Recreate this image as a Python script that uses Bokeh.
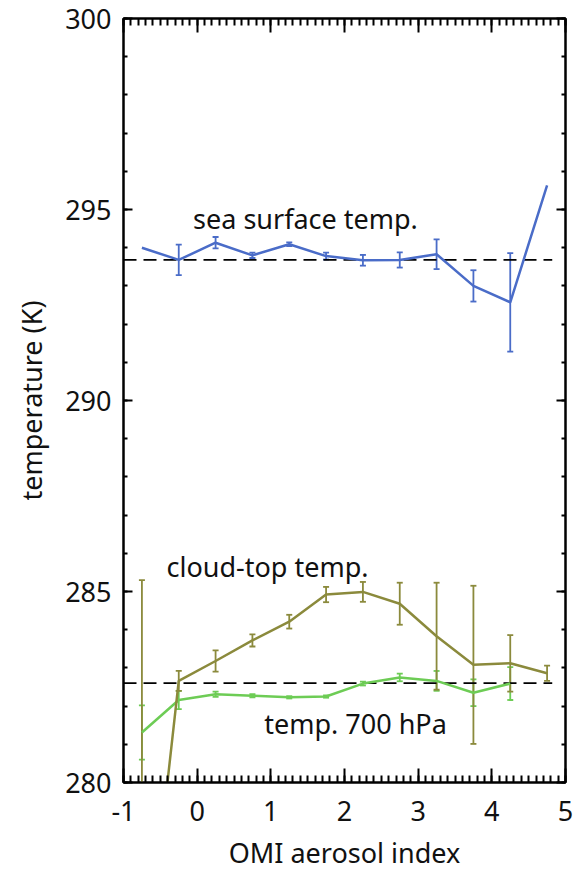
import numpy as np
from bokeh.plotting import figure
from bokeh.models import (ColumnDataSource, Whisker, TeeHead, LinearAxis, FixedTicker,
                          Range1d, Label, CustomJSTickFormatter)
from bokeh.embed import file_html
from bokeh.resources import INLINE

# ---- data ----
x_bins = [-0.75, -0.25, 0.25, 0.75, 1.25, 1.75, 2.25, 2.75, 3.25, 3.75, 4.25, 4.75]

sst = [294.0, 293.68, 294.13, 293.80, 294.09, 293.78, 293.67, 293.68, 293.83, 293.00, 292.57, 295.63]
sst_err = [0.0, 0.40, 0.15, 0.07, 0.05, 0.09, 0.14, 0.20, 0.39, 0.41, 1.29, 0.0]

ctt = [274.0, 282.66, 283.18, 283.72, 284.21, 284.92, 284.99, 284.68, 283.83, 283.08, 283.12, 282.86]
ctt_err = [11.3, 0.26, 0.28, 0.16, 0.18, 0.20, 0.26, 0.55, 1.40, 2.07, 0.74, 0.20]

x_t700 = [-0.75, -0.25, 0.25, 0.75, 1.25, 1.75, 2.25, 2.75, 3.25, 3.75, 4.25]
t700 = [281.31, 282.16, 282.31, 282.27, 282.23, 282.25, 282.59, 282.75, 282.66, 282.35, 282.59]
t700_err = [0.71, 0.24, 0.07, 0.04, 0.03, 0.03, 0.05, 0.10, 0.26, 0.35, 0.43]

ref_levels = [293.68, 282.60]
ref_x = [-1.0, 4.82]

x_ticks = [-1, 0, 1, 2, 3, 4, 5]
x_tick_labels = ["-1", "0", "1", "2", "3", "4", "5"]
y_ticks = [280, 285, 290, 295, 300]

labels = [("sea surface temp.", 1.47, 294.76),
          ("cloud-top temp.", 0.955, 285.66),
          ("temp. 700 hPa", 2.15, 281.54)]

BLUE = "#4a6cc8"
OLIVE = "#8b8a3c"
GREEN = "#6dcc55"
FONT = "Noto Sans"
FS = "27px"

p = figure(width=578, height=873, output_backend="svg", toolbar_location=None,
           x_range=Range1d(-1, 5), y_range=Range1d(280, 300),
           min_border_left=123, min_border_right=13, min_border_top=18, min_border_bottom=91,
           x_axis_label="OMI aerosol index", y_axis_label="temperature (K)")
p.grid.visible = False
p.outline_line_color = "black"
p.outline_line_width = 2
p.background_fill_color = "white"
p.border_fill_color = "white"

xt = FixedTicker(ticks=x_ticks, minor_ticks=list(np.round(np.arange(-1, 5.001, 0.1), 2)))
yt = FixedTicker(ticks=y_ticks, minor_ticks=list(range(280, 301)))

def style(ax, ticker, maj, mnr, show_labels=True):
    ax.ticker = ticker
    ax.major_tick_in = maj
    ax.major_tick_out = 0
    ax.minor_tick_in = mnr
    ax.minor_tick_out = 0
    ax.major_tick_line_width = 2
    ax.minor_tick_line_width = 2
    ax.axis_line_width = 2
    ax.axis_line_color = "black"
    ax.major_tick_line_color = "black"
    ax.minor_tick_line_color = "black"
    ax.major_label_text_font = FONT
    ax.major_label_text_font_size = FS
    ax.major_label_text_color = "#111111"
    ax.axis_label_text_font = FONT
    ax.axis_label_text_font_size = FS
    ax.axis_label_text_font_style = "normal"
    ax.axis_label_text_color = "#111111"
    if not show_labels:
        ax.formatter = CustomJSTickFormatter(code="return ''")
        ax.major_label_standoff = 0

style(p.xaxis[0], xt, 14, 7)
style(p.yaxis[0], yt, 9, 4)
p.xaxis[0].major_label_overrides = {t: s for t, s in zip(x_ticks, x_tick_labels)}
p.xaxis[0].major_label_standoff = 18
p.xaxis[0].axis_label_standoff = 10
p.yaxis[0].major_label_standoff = 12
p.yaxis[0].axis_label_standoff = 12

top = LinearAxis()
style(top, xt, 14, 7, show_labels=False)
p.add_layout(top, "above")
right = LinearAxis()
style(right, yt, 9, 4, show_labels=False)
p.add_layout(right, "right")

# reference dashed lines
for lvl in ref_levels:
    p.line(ref_x, [lvl, lvl], line_color="black", line_width=1.8, line_dash="13 7")

def series(xs, ys, errs, color):
    src = ColumnDataSource(dict(x=xs, y=ys))
    p.line("x", "y", source=src, line_color=color, line_width=2.5)
    wsrc = ColumnDataSource(dict(
        x=[a for a, e in zip(xs, errs) if e > 0],
        lo=[a - e for a, e in zip(ys, errs) if e > 0],
        hi=[a + e for a, e in zip(ys, errs) if e > 0]))
    w = Whisker(base="x", lower="lo", upper="hi", source=wsrc,
                line_color=color, line_width=1.8,
                upper_head=TeeHead(size=6, line_color=color, line_width=1.8),
                lower_head=TeeHead(size=6, line_color=color, line_width=1.8))
    p.add_layout(w)

series(x_t700, t700, t700_err, GREEN)
series(x_bins, ctt, ctt_err, OLIVE)
series(x_bins, sst, sst_err, BLUE)

for txt, lx, ly in labels:
    p.add_layout(Label(x=lx, y=ly, text=txt, text_align="center", text_baseline="middle",
                       text_font=FONT, text_font_size=FS, text_color="#111111"))

open("out.html", "w").write(file_html(p, INLINE))
